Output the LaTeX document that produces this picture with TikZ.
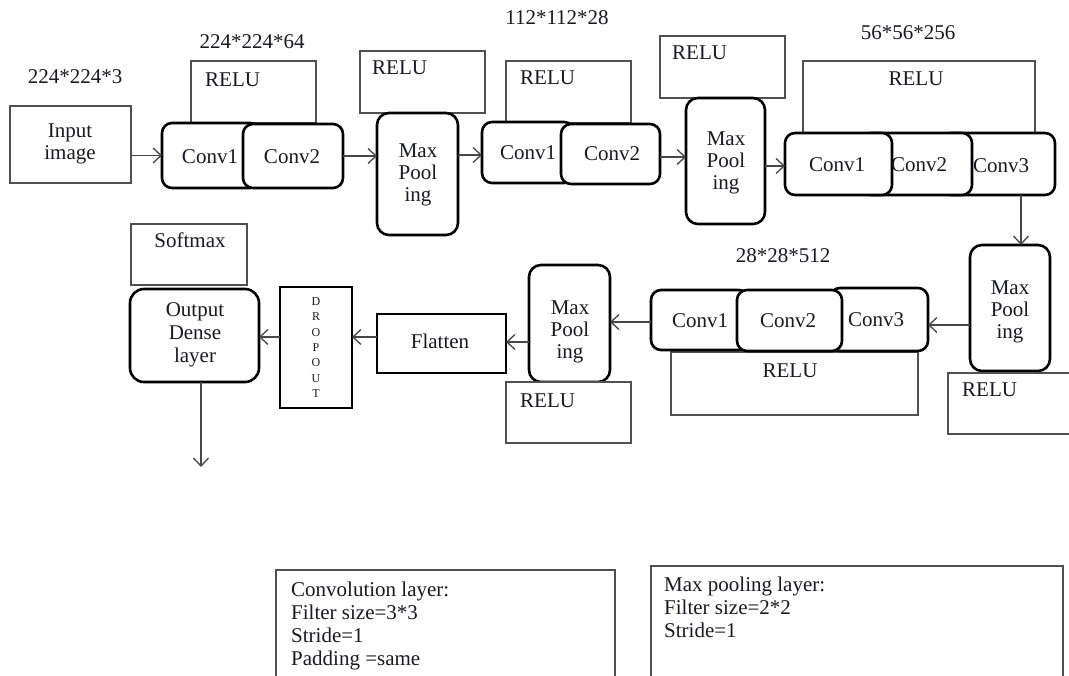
\documentclass[tikz,border=0pt]{standalone}
\usepackage{fontspec}
\setmainfont{Liberation Serif}
\usetikzlibrary{arrows.meta}
\definecolor{txtc}{RGB}{25,25,35}
\definecolor{boxc}{RGB}{80,80,80}
\definecolor{arrc}{RGB}{70,70,70}
\begin{document}
\begin{tikzpicture}[x=1pt,y=-1pt,
  box/.style={draw=boxc, line width=1.6pt, fill=white, inner sep=0pt, outer sep=0pt, anchor=north west},
  rbox/.style={draw=black, line width=2.6pt, fill=white, rounded corners=10pt, inner sep=0pt, outer sep=0pt, anchor=north west},
  txt/.style={text=txtc, font=\fontsize{21}{22}\selectfont, inner sep=0pt},
  btxt/.style={text=txtc, font=\fontsize{21}{23}\selectfont, inner sep=0pt, anchor=base west},
  arr/.style={draw=arrc, line width=1.3pt, -{Straight Barb[length=8pt,width=15pt,line width=1.3pt]}}
]
\useasboundingbox (0,0) rectangle (1069,676);
\clip (0,0) rectangle (1069,676);
\fill[white] (0,0) rectangle (1069,676);

% ---------- top row ----------
\node[txt, anchor=base] (s0) at (75,84) {224*224*3};
\node[box, minimum width=121pt, minimum height=77pt] (in) at (10,106) {};
\node[txt, align=center, anchor=north] (int) at (70,124) {Input\\image};

\node[txt, anchor=base] (s1) at (252,49) {224*224*64};
\node[box, minimum width=125pt, minimum height=62pt] (r1) at (191,61) {};
\node[txt, anchor=base west] (r1t) at (205,87) {RELU};
\node[rbox, minimum width=98pt, minimum height=65pt] (c1a) at (162,123) {};
\node[rbox, minimum width=100pt, minimum height=64pt] (c1b) at (243,124) {};
\node[txt, anchor=base] (c1at) at (210,164) {Conv1};
\node[txt, anchor=base] (c1bt) at (292,164) {Conv2};

\node[box, minimum width=125pt, minimum height=62pt] (r2) at (360,51) {};
\node[txt, anchor=base west] (r2t) at (372,75) {RELU};
\node[rbox, minimum width=81pt, minimum height=122pt, rounded corners=12pt] (m1) at (377,113) {};
\node[txt, align=center, anchor=north] (m1t) at (418,144) {Max\\Pool\\ing};

\node[txt, anchor=base] (s2) at (557,25) {112*112*28};
\node[box, minimum width=125pt, minimum height=62pt] (r3) at (506,61) {};
\node[txt, anchor=base west] (r3t) at (520,85) {RELU};
\node[rbox, minimum width=92pt, minimum height=61pt] (c2a) at (482,122) {};
\node[rbox, minimum width=99pt, minimum height=60pt] (c2b) at (561,124) {};
\node[txt, anchor=base] (c2at) at (528,160) {Conv1};
\node[txt, anchor=base] (c2bt) at (612,161) {Conv2};

\node[box, minimum width=125pt, minimum height=62pt] (r4) at (660,36) {};
\node[txt, anchor=base west] (r4t) at (672,60) {RELU};
\node[rbox, minimum width=79pt, minimum height=126pt, rounded corners=12pt] (m2) at (686,98) {};
\node[txt, align=center, anchor=north] (m2t) at (726,132) {Max\\Pool\\ing};

\node[txt, anchor=base] (s3) at (908,40) {56*56*256};
\node[box, minimum width=232pt, minimum height=73pt] (r5) at (803,61) {};
\node[txt, anchor=base] (r5t) at (916,86) {RELU};
\node[rbox, minimum width=115pt, minimum height=62pt] (c3c) at (940,133) {};
\node[rbox, minimum width=112pt, minimum height=62pt] (c3b) at (860,133) {};
\node[rbox, minimum width=107pt, minimum height=62pt] (c3a) at (785,133) {};
\node[txt, anchor=base] (c3at) at (837,172) {Conv1};
\node[txt, anchor=base] (c3bt) at (919,172) {Conv2};
\node[txt, anchor=base] (c3ct) at (1001,173) {Conv3};

% ---------- middle row ----------
\node[rbox, minimum width=80pt, minimum height=126pt, rounded corners=12pt] (m3) at (970,245) {};
\node[txt, align=center, anchor=north] (m3t) at (1010,281) {Max\\Pool\\ing};
\node[box, minimum width=140pt, minimum height=61pt] (r6) at (948,373) {};
\node[txt, anchor=base west] (r6t) at (962,397) {RELU};

\node[txt, anchor=base] (s4) at (783,263) {28*28*512};
\node[box, minimum width=247pt, minimum height=63pt] (r7) at (671,352) {};
\node[txt, anchor=base] (r7t) at (790,378) {RELU};
\node[rbox, minimum width=98pt, minimum height=60pt] (c4a) at (651,290) {};
\node[rbox, minimum width=98pt, minimum height=63pt] (c4c) at (830,288) {};
\node[rbox, minimum width=105pt, minimum height=61pt] (c4b) at (737,290) {};
\node[txt, anchor=base] (c4at) at (700,328) {Conv1};
\node[txt, anchor=base] (c4bt) at (788,328) {Conv2};
\node[txt, anchor=base] (c4ct) at (876,327) {Conv3};

\node[rbox, minimum width=81pt, minimum height=117pt, rounded corners=12pt] (m4) at (529,265) {};
\node[txt, align=center, anchor=north] (m4t) at (570,301) {Max\\Pool\\ing};
\node[box, minimum width=125pt, minimum height=61pt] (r8) at (506,382) {};
\node[txt, anchor=base west] (r8t) at (520,407) {RELU};

\node[box, draw=black, line width=2.4pt, minimum width=129pt, minimum height=59pt] (fl) at (377,314) {};
\node[txt, anchor=base] (flt) at (440,349) {Flatten};

\node[box, draw=black, line width=2.4pt, minimum width=72pt, minimum height=121pt, align=center, text=txtc, font=\fontsize{12}{15.3}\selectfont] (dr) at (280,287) {D\\R\\O\\P\\O\\U\\T};

\node[box, minimum width=116pt, minimum height=61pt] (sm) at (131,224) {};
\node[txt, anchor=base] (smt) at (190,248) {Softmax};
\node[rbox, minimum width=129pt, minimum height=93pt, rounded corners=14pt] (out) at (130,289) {};
\node[txt, align=center, anchor=north, font=\fontsize{21}{23}\selectfont] (outt) at (195,302) {Output\\Dense\\layer};

% ---------- connectors ----------
\draw[arr] (in.east |- c1a.west) -- (c1a.west);
\draw[arr] (c1b.east |- 0,156) -- (m1.west |- 0,156);
\draw[arr] (m1.east |- 0,155) -- (c2a.west |- 0,155);
\draw[arr] (c2b.east |- 0,157) -- (m2.west |- 0,157);
\draw[arr] (m2.east |- 0,166) -- (c3a.west |- 0,166);
\coordinate (d1) at (1021,195);
\draw[arr] (d1) -- (d1 |- m3.north);
\draw[arr] (m3.west |- 0,325) -- (c4c.east |- 0,325);
\draw[arr] (c4a.west |- 0,322) -- (m4.east |- 0,322);
\draw[arr] (m4.west |- 0,342) -- (fl.east |- 0,342);
\draw[arr] (fl.west |- 0,337) -- (dr.east |- 0,337);
\draw[arr] (dr.west |- 0,337) -- (out.east |- 0,337);
\coordinate (d2) at (201,467);
\draw[arr] (out.south -| d2) -- (d2);

% ---------- legend boxes ----------
\node[box, minimum width=339pt, minimum height=120pt] (lg1) at (276,570) {};
\node[btxt, align=left, anchor=north west] (lg1t) at (291,582) {Convolution layer:\\Filter size=3*3\\Stride=1\\Padding =same};
\node[box, minimum width=412pt, minimum height=120pt] (lg2) at (651,566) {};
\node[btxt, align=left, anchor=north west] (lg2t) at (664,577) {Max pooling layer:\\Filter size=2*2\\Stride=1};
\end{tikzpicture}
\end{document}
